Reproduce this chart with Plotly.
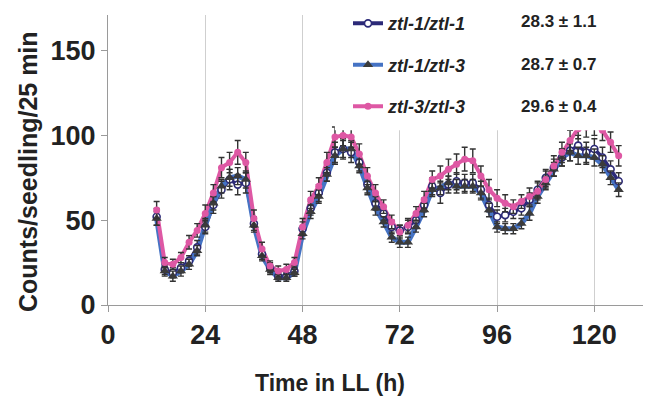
import plotly.graph_objects as go

# Time in continuous light (h)
time_h = [12, 14, 16, 18, 20, 22, 24, 26, 28, 30,
          32, 34, 36, 38, 40, 42, 44, 46, 48, 50,
          52, 54, 56, 58, 60, 62, 64, 66, 68, 70,
          72, 74, 76, 78, 80, 82, 84, 86, 88, 90,
          92, 94, 96, 98, 100, 102, 104, 106, 108, 110,
          112, 114, 116, 118, 120, 122, 124, 126]

# Counts/seedling/25 min, mean per genotype
ztl1_ztl1 = [52, 21, 19, 22, 26, 34, 46, 59, 68, 74,
             71, 72, 48, 30, 22, 17, 17, 20, 45, 57,
             66, 78, 90, 92, 90, 84, 71, 60, 54, 46,
             44, 46, 50, 59, 70, 66, 71, 73, 72, 72,
             68, 59, 52, 53, 55, 57, 62, 68, 75, 81,
             87, 91, 94, 90, 92, 87, 80, 73]
ztl1_ztl3 = [51, 20, 17, 20, 24, 32, 47, 60, 70, 75,
             76, 74, 47, 29, 21, 16, 16, 19, 42, 55,
             64, 77, 88, 92, 92, 82, 69, 57, 49, 40,
             37, 37, 46, 56, 68, 69, 72, 70, 70, 70,
             66, 56, 46, 45, 45, 48, 54, 64, 72, 80,
             87, 90, 88, 88, 87, 83, 75, 68]
ztl3_ztl3 = [56, 25, 24, 28, 37, 44, 54, 66, 81, 84,
             90, 84, 51, 33, 23, 20, 21, 25, 46, 62,
             70, 84, 99, 100, 99, 89, 76, 66, 58, 49,
             43, 47, 54, 62, 74, 76, 80, 83, 86, 85,
             76, 68, 63, 60, 58, 61, 64, 67, 74, 82,
             90, 97, 104, 105, 106, 103, 96, 88]

# Standard errors
err_ztl1_ztl1 = [5, 3, 3, 3, 3, 4, 4, 5, 5, 6,
                 6, 6, 4, 3, 3, 2, 2, 3, 4, 4,
                 5, 5, 6, 6, 6, 5, 5, 4, 4, 4,
                 3, 4, 4, 4, 5, 6, 5, 5, 5, 5,
                 5, 4, 4, 4, 4, 4, 4, 5, 5, 5,
                 5, 6, 6, 6, 6, 6, 5, 5]
err_ztl1_ztl3 = [4, 3, 3, 3, 3, 3, 4, 4, 4, 5,
                 5, 5, 4, 3, 3, 2, 2, 2, 3, 4,
                 4, 4, 5, 5, 5, 4, 4, 4, 3, 3,
                 3, 3, 3, 4, 4, 4, 4, 4, 4, 4,
                 4, 4, 3, 3, 3, 3, 4, 4, 4, 4,
                 5, 5, 5, 5, 5, 5, 4, 4]
err_ztl3_ztl3 = [5, 3, 3, 3, 4, 4, 5, 5, 6, 6,
                 7, 6, 5, 4, 3, 3, 3, 3, 5, 5,
                 5, 6, 6, 6, 6, 6, 5, 5, 4, 4,
                 4, 4, 4, 5, 5, 6, 6, 6, 7, 7,
                 6, 6, 5, 5, 4, 4, 5, 5, 5, 6,
                 6, 6, 6, 6, 6, 6, 6, 6]

genotypes = ["ztl-1/ztl-1", "ztl-1/ztl-3", "ztl-3/ztl-3"]
periods = ["28.3 \u00b1 1.1", "28.7 \u00b1 0.7", "29.6 \u00b1 0.4"]
x_ticks = [0, 24, 48, 72, 96, 120]
y_ticks = [0, 50, 100, 150]

FONT = "Liberation Sans, Arial, sans-serif"
TXT = "#222222"

series = [
    dict(y=ztl1_ztl1, e=err_ztl1_ztl1, line="#2c2a78", lw=3.5,
         marker=dict(symbol="circle", size=7, color="white",
                     line=dict(color="#2c2a78", width=1.6))),
    dict(y=ztl1_ztl3, e=err_ztl1_ztl3, line="#4573c4", lw=5,
         marker=dict(symbol="triangle-up", size=9, color="#3b3b3b",
                     line=dict(width=0))),
    dict(y=ztl3_ztl3, e=err_ztl3_ztl3, line="#de58a4", lw=4,
         marker=dict(symbol="circle", size=7, color="#de58a4",
                     line=dict(width=0))),
]

fig = go.Figure()

# connecting lines underneath
for s in series:
    fig.add_trace(go.Scatter(x=time_h, y=s["y"], mode="lines",
                             line=dict(color=s["line"], width=s["lw"]),
                             showlegend=False, hoverinfo="skip"))

# points with error bars on top
for s in series:
    fig.add_trace(go.Scatter(
        x=time_h, y=s["y"], mode="markers", marker=s["marker"],
        error_y=dict(type="data", array=s["e"], visible=True,
                     color="#333333", thickness=1.4, width=3),
        showlegend=False))

# legend entries
for i, (s, name) in enumerate(zip(series, genotypes)):
    fig.add_trace(go.Scatter(
        x=[None], y=[None], mode="lines+markers", name=name,
        legendgroup=f"g{i}",
        line=dict(color=s["line"], width=4), marker=s["marker"]))

annotations = [
    dict(text=p, x=0.768, y=yy, xref="paper", yref="paper",
         xanchor="left", yanchor="middle", showarrow=False,
         font=dict(family=FONT, size=17, color=TXT, weight="bold"))
    for p, yy in zip(periods, [0.979, 0.828, 0.683])
]
annotations.append(dict(
    text="Counts/seedling/25 min", x=-0.1495, y=0.4586,
    xref="paper", yref="paper", textangle=-90, showarrow=False,
    xanchor="center", yanchor="middle",
    font=dict(family=FONT, size=25, color=TXT, weight="bold")))
annotations.append(dict(
    text="Time in LL (h)", x=0.415, y=-0.269,
    xref="paper", yref="paper", showarrow=False,
    xanchor="center", yanchor="middle",
    font=dict(family=FONT, size=23, color=TXT, weight="bold")))

fig.update_layout(
    width=646, height=402, autosize=False,
    margin=dict(l=108, r=3, t=15, b=97, pad=0),
    paper_bgcolor="white", plot_bgcolor="white",
    showlegend=True,
    legend=dict(x=0.4486, y=1.034, xanchor="left", yanchor="top",
                bgcolor="rgba(0,0,0,0)", borderwidth=0,
                traceorder="grouped", tracegroupgap=15,
                font=dict(family=FONT, size=18, color=TXT,
                          weight="bold", style="italic")),
    shapes=[dict(type="rect", xref="paper", yref="paper",
                 x0=0.424, x1=1.01, y0=0.603, y1=1.06,
                 fillcolor="white", line=dict(width=0), layer="above")],
    annotations=annotations,
    xaxis=dict(range=[0, 132], tickvals=x_ticks, showgrid=True,
               gridcolor="#cfcfcf", gridwidth=1, zeroline=False,
               showline=True, linecolor="#9a9a9a", linewidth=1,
               ticks="outside", ticklen=6, tickcolor="#9a9a9a",
               tickfont=dict(family=FONT, size=27, color=TXT, weight="bold")),
    yaxis=dict(range=[0, 171], tickvals=y_ticks, showgrid=False,
               zeroline=False, showline=True, linecolor="#9a9a9a",
               linewidth=1, ticks="outside", ticklen=6,
               tickcolor="#9a9a9a",
               tickfont=dict(family=FONT, size=27, color=TXT, weight="bold")),
)

fig.write_html("out.html")
